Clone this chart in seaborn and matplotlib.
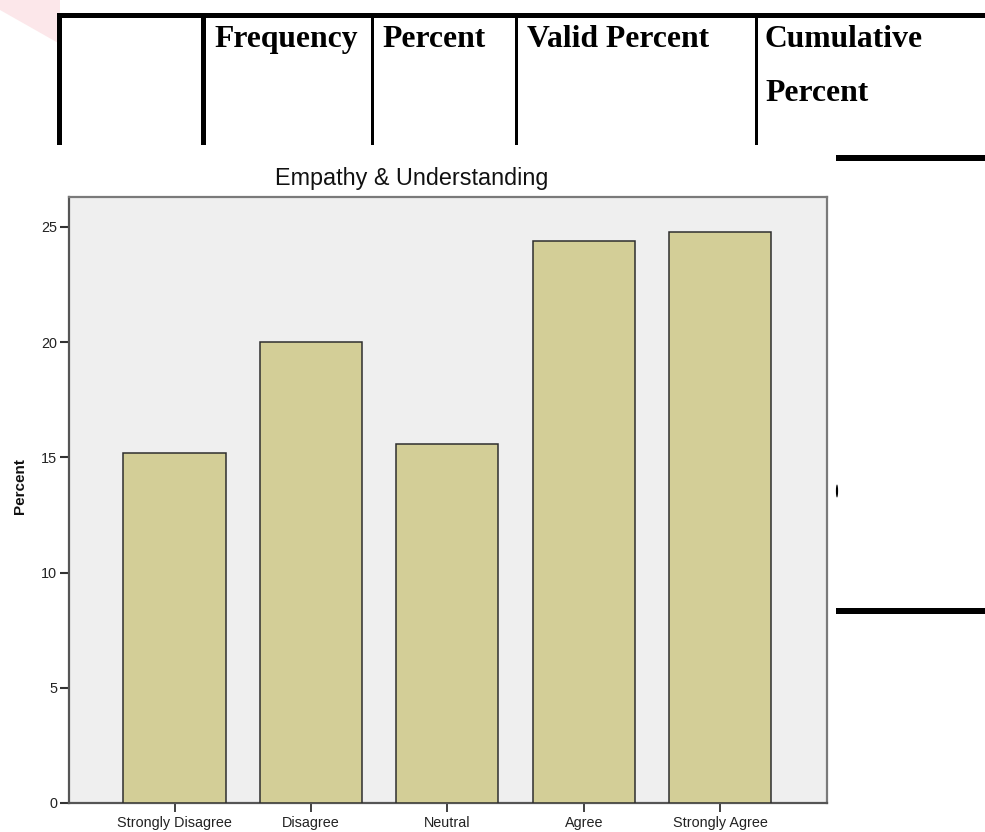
import matplotlib
matplotlib.use("Agg")
import matplotlib.pyplot as plt
from matplotlib.patches import Rectangle, Polygon, Ellipse
import seaborn as sns
import pandas as pd

# Survey responses (percent of respondents)
categories = ["Strongly Disagree", "Disagree", "Neutral", "Agree", "Strongly Agree"]
percent = [15.2, 20.0, 15.6, 24.4, 24.8]
y_ticks = [0, 5, 10, 15, 20, 25]
table_headers = ["Frequency", "Percent", "Valid Percent", "Cumulative\nPercent"]

sns.set_style("ticks")
plt.rcParams["font.family"] = ["Liberation Sans", "DejaVu Sans"]

W, H = 985, 832
fig = plt.figure(figsize=(W / 100, H / 100), dpi=100)
fig.patch.set_facecolor("white")


def fx(px):
    return px / W


def fy(py):
    return 1 - py / H


def block(x0, y0, x1, y1, color="black"):
    fig.add_artist(Rectangle((fx(x0), fy(y1)), (x1 - x0) / W, (y1 - y0) / H,
                             transform=fig.transFigure, facecolor=color,
                             edgecolor="none", zorder=5))


# Faint watermark corner
fig.add_artist(Polygon([(fx(0), fy(0)), (fx(60), fy(0)), (fx(60), fy(44)),
                        (fx(0), fy(10))], closed=True, transform=fig.transFigure,
                       facecolor="#FBE0E3", edgecolor="none", alpha=0.75, zorder=1))

# Table header frame
block(57, 13, 985, 18)
block(57, 13, 62, 145)
block(201, 13, 206, 145)
block(371, 13, 374, 145)
block(515, 13, 518, 145)
block(755, 13, 758, 145)
block(836, 155, 985, 161)
block(836, 608, 985, 614)
fig.add_artist(Ellipse((fx(837), fy(491)), 2.2 / W, 13 / H, transform=fig.transFigure,
                       facecolor="black", edgecolor="none", zorder=5))

serif = dict(family=["Liberation Serif", "DejaVu Serif"], fontweight="bold",
             fontsize=22.8, color="black", va="baseline", ha="left")
header_x = [214, 382, 527, 765]
for label, x in zip(table_headers, header_x):
    lines = label.split("\n")
    for i, line in enumerate(lines):
        fig.text(fx(x), fy(47 + 54 * i), line, **serif)

# Bar chart
ax = fig.add_axes([fx(69), fy(803), (827 - 69) / W, (803 - 197) / H])
df = pd.DataFrame({"Response": categories, "Percent": percent})
sns.barplot(data=df, x="Response", y="Percent", order=categories, color="#D3CE97",
            saturation=1, width=0.75, edgecolor="#2E2E2E", linewidth=1.1, ax=ax,
            errorbar=None, zorder=3)

ax.set_facecolor("#EFEFEF")
ax.set_xlim(-0.7735, 4.7835)
ax.set_ylim(0, 26.3)
ax.set_yticks(y_ticks)
ax.set_yticklabels([str(t) for t in y_ticks])
ax.set_xlabel("")
ax.set_ylabel("")
for side, sp in ax.spines.items():
    sp.set_visible(True)
    sp.set_linewidth(1.6)
    sp.set_color("#555555" if side in ("left", "bottom") else "#7A7A7A")
ax.tick_params(axis="y", direction="out", length=6.5, width=1.5, color="#333333",
               labelsize=10.4, labelcolor="#222222", pad=2)
ax.tick_params(axis="x", direction="out", length=6.5, width=1.3, color="#333333",
               labelsize=10.4, labelcolor="#222222", pad=3)

fig.text(fx(412), fy(178), "Empathy & Understanding", ha="center", va="center",
         fontsize=16.8, color="#111111")
fig.text(fx(20), fy(486), "Percent", rotation=90, ha="center", va="center",
         fontsize=11, fontweight="bold", color="#111111")

fig.savefig("out.png", dpi=100, facecolor="white")
